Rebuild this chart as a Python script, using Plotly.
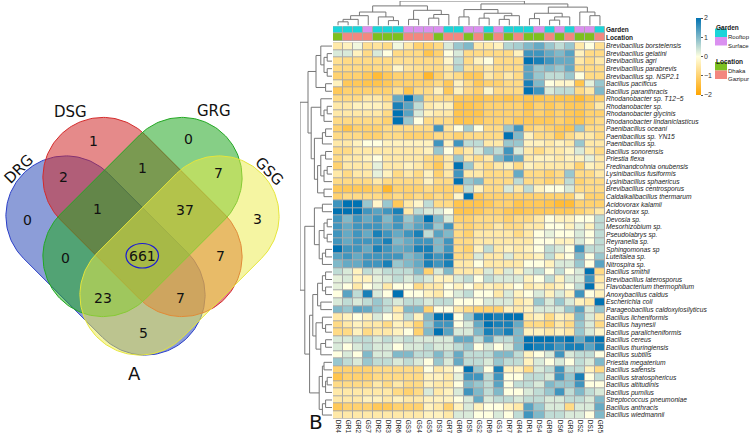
import numpy as np
import plotly.graph_objects as go

W, H = 750, 436

# ---------------- Venn data ----------------
venn_sets = ["DRG", "DSG", "GRG", "GSG"]
venn_counts = {
    "DRG": 0, "DSG": 1, "GRG": 0, "GSG": 3,
    "DRG&DSG": 2, "DSG&GRG": 1, "GRG&GSG": 7,
    "DRG&DSG&GRG": 1, "DSG&GRG&GSG": 37, "ALL": 661,
    "DRG&GRG": 0, "DSG&GSG": 7, "DRG&GRG&GSG": 23,
    "DRG&DSG&GSG": 7, "DRG&GSG": 5,
}

# ---------------- Heatmap data ----------------
samples = ["DR4", "GR1", "GR2", "GS7", "DR2", "DR3", "DR6", "GS3", "GS4", "GS5", "DS3", "GR7", "GR6", "DS5",
           "GS2", "DR9", "GS1", "DR7", "GR4", "DR1", "DS4", "GR9", "DS6", "GR3", "DS2", "DS1", "GR5"]
species = [
    "Brevibacillus borstelensis", "Brevibacillus gelatini", "Brevibacillus agri", "Brevibacillus parabrevis",
    "Brevibacillus sp. NSP2.1", "Bacillus pacificus", "Bacillus paranthracis", "Rhodanobacter sp. T12−5",
    "Rhodanobacter sp.", "Rhodanobacter glycinis", "Rhodanobacter lindaniclasticus", "Paenibacillus oceani",
    "Paenibacillus sp. YN15", "Paenibacillus sp.", "Bacillus sonorensis", "Priestia flexa",
    "Fredinandcohnia onubensis", "Lysinibacillus fusiformis", "Lysinibacillus sphaericus",
    "Brevibacillus centrosporus", "Caldalkalibacillus thermarum", "Acidovorax kalamii", "Acidovorax sp.",
    "Devosia sp.", "Mesorhizobium sp.", "Pseudolabrys sp.", "Reyranella sp.", "Sphingomonas sp",
    "Luteitalea sp.", "Nitrospira sp.", "Bacillus smithii", "Brevibacillus laterosporus",
    "Flavobacterium thermophilum", "Anoxybacillus caldus", "Escherichia coli",
    "Parageobacillus caldoxylosilyticus", "Bacillus licheniformis", "Bacillus haynesii",
    "Bacillus paralicheniformis", "Bacillus cereus", "Bacillus thuringiensis", "Bacillus subtilis",
    "Priestia megaterium", "Bacillus safensis", "Bacillus stratosphericus", "Bacillus altitudinis",
    "Bacillus pumilus", "Streptococcus pneumoniae", "Bacillus anthracis", "Bacillus wiedmannii",
]

z_rows = [
    [-0.5,-0.3,0.1,-0.7,-0.6,-0.8,0.1,-0.5,-1,-1,-0.8,0.3,0.8,1.0, -0.5,-0.5,-0.3,0.6,0.7,1.0,1.2,0.8,0.5,0.8,-0.5,0,-0.7],
    [0.3,0.3,-0.3,-0.8,0.3,0,-0.8,-0.8,-0.8,-1.3,-1,0,0.3,-0.8, -0.8,-0.8,-0.8,-0.8,-0.3,1.5,1.5,1.2,1.0,1.3,-0.3,-0.8,-0.8],
    [-0.7,-0.8,-0.8,-0.8,-0.8,-0.8,-0.7,-0.7,-0.8,-0.8,-0.8,-0.2,0.5,-0.8, -0.3,0,-0.8,-0.8,-0.8,2.0,1.8,1.5,1.2,1.2,-0.5,-0.8,-0.5],
    [-0.8,-0.8,-0.8,-0.9,-0.8,-0.8,-0.2,-0.6,-0.7,-0.8,-0.8,-0.5,0.6,-0.7, -0.8,-0.5,-0.8,-0.8,-0.8,1.3,0.8,1.0,0.8,1.2,-0.8,-0.8,-0.8],
    [-1,-1,-1,-1.2,-1.5,-1.2,-1,-1,-1,-1.6,-1,-0.6,-0.8,-1.2, -1.2,-0.5,-0.8,-0.5,-0.8,1.3,0.8,0.5,0.5,0.8,0,-0.8,-0.8],
    [-0.3,-1.2,-1.2,-1.3,-1.3,-1.2,-1,-1,-1,-1,-0.8,-1.2,-0.3,-0.8, -1.2,-1,-1,-0.8,-0.8,1.8,1.0,0,-0.2,-0.2,-1.3,0.2,0.8],
    [-1.2,-1,-1,-1,-1,-1,-0.7,-1.3,-0.8,-0.8,-0.3,-1.2,-0.3,-0.8, -1,-0.2,-0.8,-0.8,-0.8,2.0,1.5,0.3,0.5,0.5,-0.8,-0.5,1.0],
    [-0.8,-0.8,-0.8,-0.5,-0.5,-0.8,1.2,2.0,1.0,-0.8,-0.8,-0.8,-1.2,-1.2, -1.3,-1.2,-1.2,-1.3,-1.2,-1.3,-1.3,-1.2,-1.3,-1.3,-1.5,-1.2,-1],
    [-0.5,-0.5,-0.3,-0.3,-0.3,-0.5,1.8,1.3,0.5,-0.5,-0.3,-0.3,-1.3,-1.3, -1.2,-1,-1,-1,-1,-1.3,-1,-1.2,-1,-1.2,-1.2,-1,-0.5],
    [-0.5,-0.5,-0.5,-0.5,-0.5,-0.8,2.0,1.3,0.3,-0.3,-0.5,-0.5,-1.3,-1.3, -1.3,-1,-1,-1,-1,-1.2,-1,-1.2,-1,-1.2,-1.3,-1,-1],
    [-0.8,-0.8,-0.8,-0.8,-0.8,-1,2.0,0.8,0,-0.8,-0.8,-0.8,-1.3,-1.3, -1.2,-1,-1,-1,-1.2,-1.2,-1.2,-1.2,-1,-1.2,-1.3,-1,-0.8],
    [-1,-1.3,-1,-1,-1,-0.8,-0.8,-0.8,-0.8,-0.8,1.5,-0.6,0,0.7, 0,-0.8,-0.8,0.8,1.5,-1,-0.8,-1,-1.2,-1.3,0.8,-0.8,-0.8],
    [-0.8,-0.8,-0.8,-1,-1,-0.8,-0.8,-1,-1,-1,-0.8,-0.8,-1,-0.8, -0.8,-0.8,-0.8,2.0,1.0,-0.3,-0.8,-0.8,-1.2,-0.8,-0.5,-0.5,-0.8],
    [-0.5,-0.5,-0.3,0,0,-0.3,-0.3,-0.3,-0.3,-0.3,1.5,-0.3,1.5,0.5, 0.5,-0.5,-0.5,0.8,0.8,-0.3,-0.3,-0.5,-0.3,-0.5,0.8,-0.5,-0.5],
    [-0.8,-0.8,-0.5,-0.5,-0.5,-0.5,-0.5,-0.5,-0.5,-0.3,0.8,0,-0.8,-0.5, 0.3,0.8,0.5,1.5,0.3,-0.5,-0.8,-0.5,-0.5,-0.3,0.3,-0.5,-0.8],
    [-0.8,-0.5,-0.5,-0.3,0,-0.5,-0.5,-0.5,-0.5,-0.8,-1,-0.5,0.8,-0.5, -0.8,-0.5,1.0,1.5,1.2,-0.5,-0.3,-0.3,-0.5,-0.3,-0.3,0.2,-0.5],
    [-1,-0.5,-0.5,-0.5,0.2,-0.5,-0.5,-0.3,-0.5,-0.8,-1.2,-0.5,2.0,0.8, -0.5,-0.8,-0.5,-0.3,-0.8,-0.3,-0.5,-0.5,-0.5,-0.5,-1,-0.3,-0.5],
    [-0.5,-0.8,-0.5,-0.5,0.2,-0.3,-0.8,-0.5,-0.8,-0.3,-1,-0.5,1.5,-0.5, -0.5,-0.8,-0.8,-0.8,1.2,-0.8,-0.8,-1,-0.8,0.8,-0.8,-0.8,-0.5],
    [-0.8,-0.8,-0.8,-0.8,-0.5,-0.8,-0.8,-0.8,-0.8,-0.3,-0.8,-0.8,2.0,0.8, 1.0,-0.8,-0.8,-0.8,0.5,-0.8,-0.8,-1,-0.8,0.5,-1,-0.8,-0.8],
    [-1.2,-1.2,-1.2,-1.2,-1,-1.6,-1,-1,-1,-0.8,-1,-1,-1,0.5, -0.3,-0.8,-0.8,0.3,-0.5,0.5,-0.3,0,0,0.3,-0.8,-0.8,-0.8],
    [-1,-0.8,-0.8,-0.8,-0.8,-1,-0.8,-1,-0.8,-1,-0.8,-1,-0.2,2.0, -1.2,-1,-1,-1,-1,-1,-1,-1,-1,-1,-0.3,-1,-1],
    [1.5,2.0,2.0,0.8,-0.2,0.8,-1.2,-0.5,-0.2,0.5,-0.8,-0.8,-1.3,-1.3, -1.3,-1.2,-1,-1,-1.3,-1.2,-1.2,-1.3,-1.5,-1.5,-1,-1,-1],
    [2.0,2.0,2.0,1.5,1.3,1.5,1.8,-0.5,0.5,0.3,0.3,0,-1.3,-1.3, -1.2,-1,-1,-1.2,-1.3,-1.2,-1.2,-1.2,-1.2,-1.2,-1,-0.8,-0.5],
    [1.5,1.0,1.5,1.2,1.5,1.0,1.5,0.8,1.2,2.0,1.0,0.3,-1,-1, -0.8,-0.8,-0.8,-1,-0.8,-0.8,-0.5,0,-0.3,-0.3,0,0,0.5],
    [1.5,1.2,1.5,1.5,1.5,1.2,1.5,1.0,1.3,1.5,0.8,1.5,-0.8,-1, -0.8,-0.8,-0.5,-0.8,-0.8,-0.5,-0.5,0,0,-0.3,0.2,-0.3,0.5],
    [1.5,1.2,1.5,1.2,1.8,1.5,1.2,1.5,1.8,0.5,1.3,1.0,-0.8,-1, -0.5,-0.5,-0.5,-0.5,-0.8,-0.5,0,0.2,0,0,0.3,0,0.5],
    [1.5,1.2,1.5,1.5,1.5,1.8,1.0,1.2,1.5,1.5,1.0,1.5,-0.8,-0.8, -0.5,-0.5,-0.5,-0.5,-0.5,-0.5,0,0,-0.3,-0.3,0.3,0,0.5],
    [2.0,1.5,1.5,1.2,1.8,1.5,1.2,1.3,1.8,1.8,1.0,1.5,-0.8,-1, -0.3,0.5,-0.5,-0.3,-0.5,-0.3,0,0.5,0.3,0,1.5,0.5,0.5],
    [1.3,1.5,1.2,1.5,1.5,1.5,1.5,1.0,1.2,1.8,1.5,1.8,-0.8,-0.8, 0.3,-0.5,-0.5,0.3,-0.5,-0.5,-0.3,0.5,-0.3,0,1.0,0,0.8],
    [1.0,1.2,1.2,1.5,1.5,1.8,0.8,1.0,1.2,1.8,1.5,1.8,-0.5,-0.5, 0,-0.5,-0.5,-0.5,-0.5,0,0,-0.3,0.3,0.3,0.8,0,1.3],
    [0.5,0.3,-0.3,0.5,0.3,0.5,0.5,0.5,1.0,-1,0.3,1.0,-0.5,-0.5, -0.5,0.3,-0.5,0.3,-0.3,0.3,0.5,0,0.5,0,0.3,2.0,-0.8],
    [0.2,0.3,-0.3,-0.3,0.2,0.3,0.5,0.3,0.5,0.3,-0.3,-0.3,0.3,0.5, 0,0.5,0.3,0.3,0.3,-0.3,0,0.5,-0.3,0.3,0.3,1.5,-0.5],
    [0.2,0,-0.5,0,0.2,-0.5,0,0,-0.8,-0.5,-0.5,0,-0.3,0, -0.5,-0.3,-0.5,-0.3,0,-0.5,-0.3,-0.5,-0.3,0,0.5,2.0,-0.3],
    [0,1.3,0.5,1.8,0.3,0,2.0,0,0,-0.3,-0.5,0,0.3,0.5, 0,0,-0.5,0.3,-0.3,0,0.3,-0.3,0.3,-0.3,1.5,0,-0.3],
    [0.3,0.5,0.3,0.5,0.8,0.5,0.3,0.5,0.5,0.3,0.5,0.5,0,0, 0,0.3,0.3,0.3,-0.5,-0.3,0.8,0.3,0.8,0.3,-0.3,-0.5,2.0],
    [1.0,0.8,1.3,1.2,0.8,0.5,-0.5,1.0,1.0,-1,0,0,-0.5,-0.8, -1,-1,-1,-0.3,-0.5,-0.3,0.3,0.3,0.3,0.8,1.3,0.3,0.8],
    [-0.5,-0.3,0,-0.3,0.3,0,-0.3,0.5,-0.3,1.0,2.0,2.0,0,0.8, 1.8,2.0,1.8,2.0,2.0,-0.5,-0.3,-0.8,-0.3,-0.5,1.0,0.3,-0.5],
    [-0.8,-0.5,-0.3,-0.5,-0.5,-0.8,-0.3,-0.5,-1,0.8,1.5,1.5,0,0.3, 1.2,2.0,1.8,1.8,1.2,-0.8,-0.8,-1,-0.5,-0.8,0.8,0.3,-0.8],
    [-0.8,-0.8,-0.3,-0.8,-0.5,-0.5,-0.3,0,-1,1.0,2.0,1.3,0.3,0.3, 1.0,1.8,1.5,1.8,1.0,-0.3,-0.3,-0.5,-0.3,-0.5,0.8,0.3,-0.2],
    [0.3,0.3,0.5,0.5,0.3,0.5,0.3,0.5,0.3,0.3,0.3,0.3,1.2,1.2, 0.5,1.3,0.5,0.5,1.0,2.0,2.0,2.0,1.8,2.0,1.2,1.8,2.0],
    [0.3,0,0.3,0.5,0.3,0.3,0,0.3,0.3,0.5,0.3,0.3,0.5,0.8, 0,0.3,0,0.3,1.0,2.0,1.8,1.8,1.5,1.8,1.8,1.3,1.8],
    [0,0.3,0,1.0,0.3,0.3,1.0,1.0,0.5,0.5,1.0,0.5,1.2,0.5, 0.5,0.5,1.0,1.0,0.5,-0.3,0,0.3,1.5,0.3,0.5,0.5,0],
    [0.8,0.5,0.3,0.8,0.5,0.5,0.3,0.5,0.3,0,0.8,0.3,1.2,0.5, 0.5,0.3,0.8,0.5,0.5,-0.3,0.3,0,0.3,0,0.5,0.3,1.0],
    [-1,-1,-1,-1,-0.8,-0.8,-0.8,-0.8,-0.8,0,-0.5,-0.3,0,2.0, 0.8,0,1.8,-0.3,-0.3,-0.8,0.3,0.5,1.5,0.5,0.5,-0.3,-0.8],
    [-1.3,-1,-1,-1,-0.8,-0.8,-0.8,-0.8,-0.8,-0.3,-0.3,-0.5,0.2,1.5, 1.5,0.5,1.5,0,0,0.5,0.5,0.3,1.5,0.8,1.8,0,0.5],
    [-0.8,-0.8,-0.8,-0.8,-0.5,-0.8,-0.5,-0.8,-0.8,-0.3,-0.5,-0.5,0,1.0, 0.8,0.5,1.3,0,0.5,0.5,0.3,1.0,0.8,0.8,1.5,0,0],
    [-0.5,-0.5,-0.5,-0.5,-0.5,-0.5,-0.8,-1,-0.8,0.3,-0.5,-0.3,0.3,1.5, 1.0,0.5,1.0,0,0,0.3,0.5,0.8,1.5,0.5,1.0,0.5,0.3],
    [-0.5,-0.5,-0.5,-0.3,-0.3,-0.5,-0.3,-0.5,-0.5,-0.3,-0.3,-0.3,0,0.3, 1.2,0.3,0.5,0.5,0.3,0.5,0.5,0.3,0.3,0.5,0.5,0.3,1.0],
    [-1.2,-1,-1,-1,-1.2,-1.2,-1,-1,-1,-0.3,-0.5,-1,-0.3,0.3, -0.3,0,0,-0.3,-0.5,1.3,0.8,0.3,0.3,-0.8,0.3,0.3,1.2],
    [-0.5,-0.5,-0.5,-0.5,-0.5,-0.5,-0.5,-0.5,-0.5,-0.3,-0.3,-0.5,0.3,0.3, 0,0,0.3,0,0.5,1.5,1.0,0.5,0.5,0.3,0.3,0,1.0],
]

garden_levels = ["Rooftop", "Surface"]
location_levels = ["Dhaka", "Gazipur"]
garden_colors = {"Rooftop": "#1CD4D9", "Surface": "#DA90F0"}
location_colors = {"Dhaka": "#7DC01F", "Gazipur": "#F3877F"}

# dendrogram merges: (child_a, child_b, height as fraction of max); leaves in display order
col_merges = [
    (0, 1, .15), (27, 2, .25), (28, 3, .40), (5, 6, .20), (4, 30, .35), (29, 31, .55),
    (7, 8, .25), (9, 10, .30), (34, 11, .45), (33, 35, .62), (32, 36, .80),
    (12, 13, .35), (14, 15, .30), (16, 17, .25), (40, 18, .40), (39, 41, .50), (38, 42, .65),
    (19, 20, .28), (21, 22, .22), (23, 45, .35), (44, 46, .50), (25, 26, .40), (24, 48, .55),
    (47, 49, .75), (43, 50, .88), (37, 51, 1.0),
]
row_merges = [
    (1, 2, .15), (3, 4, .15), (50, 51, .25), (0, 52, .35), (5, 6, .20), (53, 54, .50),
    (8, 9, .15), (56, 10, .25), (7, 57, .35),
    (11, 12, .20), (59, 13, .30), (14, 15, .20), (16, 17, .15), (62, 18, .25), (61, 63, .35),
    (19, 20, .25), (64, 65, .45), (60, 66, .55), (58, 67, .65), (55, 68, .75),
    (21, 22, .30), (23, 24, .15), (25, 26, .15), (71, 72, .25), (27, 28, .20), (74, 29, .30),
    (73, 75, .40), (70, 76, .55),
    (30, 31, .20), (32, 33, .20), (78, 79, .30), (34, 35, .35), (80, 81, .45),
    (37, 38, .20), (36, 83, .30), (39, 40, .20), (85, 41, .35), (84, 86, .50), (82, 87, .60),
    (42, 43, .25), (44, 45, .15), (90, 46, .20), (89, 91, .30), (47, 48, .20), (93, 49, .30),
    (92, 94, .40), (88, 95, .70), (77, 96, .85), (69, 97, 1.0),
]


def dendro_lines(merges, n):
    pos = {i: float(i) for i in range(n)}
    hgt = {i: 0.0 for i in range(n)}
    p, h = [], []
    for k, (a, b, hh) in enumerate(merges):
        p += [pos[a], pos[a], pos[b], pos[b], None]
        h += [hgt[a], hh, hh, hgt[b], None]
        pos[n + k] = (pos[a] + pos[b]) / 2
        hgt[n + k] = hh
    return p, h


def py(y):
    return 1 - y / H


fig = go.Figure()

# ---------------- Venn (axis x5/y5, pixel units): capsule-shaped sets ----------------
shapes_venn = [  # center x, center y, half-length, radius, axis angle(deg), fill, line
    (105.5, 255.5, 56, 60, 45, "rgba(46,76,184,0.55)", "#2A3EC8"),
    (142.5, 217, 56, 60, 45, "rgba(208,42,42,0.55)", "#D42A2A"),
    (142.5, 217, 56, 60, -45, "rgba(35,168,35,0.55)", "#22A822"),
    (179.5, 255.5, 56, 60, -45, "rgba(236,236,70,0.5)", "#E6E63A"),
]
for cx, cy, hl, r, ang, fc, lc in shapes_venn:
    phi = np.deg2rad(ang)
    ux, uy = np.cos(phi), np.sin(phi)
    a2 = np.linspace(phi - np.pi / 2, phi + np.pi / 2, 90)
    a1 = np.linspace(phi + np.pi / 2, phi + 3 * np.pi / 2, 90)
    xs = np.concatenate([cx + hl * ux + r * np.cos(a2), cx - hl * ux + r * np.cos(a1)])
    ys = np.concatenate([cy + hl * uy + r * np.sin(a2), cy - hl * uy + r * np.sin(a1)])
    xs = np.append(xs, xs[0])
    ys = np.append(ys, ys[0])
    fig.add_trace(go.Scatter(x=xs, y=ys, mode="lines", fill="toself", fillcolor=fc,
                             line=dict(color=lc, width=1), hoverinfo="skip",
                             xaxis="x5", yaxis="y5"))

venn_label_pos = {
    "DRG": (27, 220), "DSG": (93, 141), "GRG": (188, 139), "GSG": (257, 219),
    "DRG&DSG": (63, 177), "DSG&GRG": (142, 168), "GRG&GSG": (218, 173),
    "DRG&DSG&GRG": (97, 209), "DSG&GRG&GSG": (185, 210), "ALL": (142, 256),
    "DRG&GRG": (65, 258), "DSG&GSG": (220, 256), "DRG&GRG&GSG": (103, 298),
    "DRG&DSG&GSG": (180, 298), "DRG&GSG": (143, 333),
}
for key, val in venn_counts.items():
    x, y = venn_label_pos[key]
    fig.add_annotation(x=x, y=y, xref="x5", yref="y5", text=str(val), showarrow=False,
                       font=dict(family="DejaVu Sans", size=14, color="#111"))
fig.add_shape(type="circle", xref="x5", yref="y5", x0=126, x1=158.5, y0=243.5, y1=268,
              line=dict(color="#1A1AD6", width=1.2))
set_label_pos = {"DRG": (19, 169, -45), "DSG": (70, 112, 0), "GRG": (214, 111, 0), "GSG": (269, 171, 45)}
for s in venn_sets:
    x, y, r = set_label_pos[s]
    fig.add_annotation(x=x, y=y, xref="x5", yref="y5", text=s, showarrow=False, textangle=r,
                       borderpad=0, font=dict(family="DejaVu Sans", size=15, color="#111"))
fig.add_annotation(x=134, y=373, xref="x5", yref="y5", text="A", showarrow=False,
                   font=dict(family="DejaVu Sans", size=18, color="#111"))

# ---------------- Heatmap ----------------
ncol, nrow = len(samples), len(species)
hx0, hx1 = 333, 605
hy0, hy1 = 42.3, 418.8
colorscale = [[0.0, "#FFA500"], [0.5, "#FFFFE0"], [1.0, "#0072B2"]]

fig.add_shape(type="rect", xref="paper", yref="paper", x0=hx0 / W, x1=hx1 / W, y0=py(hy1), y1=py(hy0),
              fillcolor="#A9A9A9", line=dict(width=0), layer="below")
fig.add_shape(type="rect", xref="paper", yref="paper", x0=hx0 / W, x1=hx1 / W, y0=py(41), y1=py(26.2),
              fillcolor="#A9A9A9", line=dict(width=0), layer="below")

fig.add_trace(go.Heatmap(
    z=z_rows, x=list(range(ncol)), y=list(range(nrow)), zmin=-2, zmax=2, colorscale=colorscale,
    xgap=1, ygap=1, hoverinfo="skip", xaxis="x", yaxis="y",
    colorbar=dict(thickness=5, len=77, lenmode="pixels", x=696 / W, xanchor="left", xpad=0, ypad=0,
                  y=py(18), yanchor="top", tickvals=[-2, -1, 0, 1, 2],
                  ticktext=["−2", "−1", "0", "1", "2"], ticks="outside", ticklen=2, tickcolor="#555",
                  outlinewidth=0, tickfont=dict(family="Liberation Sans", size=7, color="#333")),
))

garden = ["Rooftop" if s[1] == "R" else "Surface" for s in samples]
location = ["Dhaka" if s[0] == "D" else "Gazipur" for s in samples]
levels = garden_levels + location_levels
cols4 = [garden_colors[l] for l in garden_levels] + [location_colors[l] for l in location_levels]
ann_z = [[levels.index(g) for g in garden], [levels.index(l) for l in location]]
dcs = []
for i, c in enumerate(cols4):
    dcs += [[i / 4, c], [(i + 1) / 4, c]]
fig.add_trace(go.Heatmap(z=ann_z, x=list(range(ncol)), y=[0, 1], zmin=-0.5, zmax=3.5,
                         colorscale=dcs, showscale=False, xgap=1, ygap=1, hoverinfo="skip",
                         xaxis="x", yaxis="y2"))

# dendrograms
cp, ch = dendro_lines(col_merges, ncol)
fig.add_trace(go.Scatter(x=cp, y=ch, mode="lines", line=dict(color="#777", width=1),
                         hoverinfo="skip", xaxis="x3", yaxis="y3"))
rp, rh = dendro_lines(row_merges, nrow)
fig.add_trace(go.Scatter(x=rh, y=rp, mode="lines", line=dict(color="#777", width=1),
                         hoverinfo="skip", xaxis="x4", yaxis="y4"))

# legend for annotations
lx = 715
small = dict(family="Liberation Sans", size=6, color="#222")
fig.add_annotation(x=lx / W, y=py(23), xref="paper", yref="paper", text="<b>Garden</b>", showarrow=False,
                   xanchor="left", borderpad=0, font=dict(family="Liberation Sans", size=6.5, color="#222"))
fig.add_annotation(x=lx / W, y=py(57), xref="paper", yref="paper", text="<b>Location</b>", showarrow=False,
                   xanchor="left", borderpad=0, font=dict(family="Liberation Sans", size=6.5, color="#222"))
legend_rows = [(garden_levels, garden_colors, 28.5), (location_levels, location_colors, 62)]
for labels, cmap, ytop in legend_rows:
    for j, lab in enumerate(labels):
        y0 = ytop + j * 8.5
        fig.add_shape(type="rect", xref="paper", yref="paper", x0=lx / W, x1=(lx + 12) / W,
                      y0=py(y0 + 8.5), y1=py(y0), fillcolor=cmap[lab], line=dict(width=0))
        fig.add_annotation(x=(lx + 12) / W, y=py(y0 + 4.5), xref="paper", yref="paper", text=lab,
                           showarrow=False, xanchor="left", borderpad=0, font=small)

fig.add_annotation(x=316 / W, y=0, xref="paper", yref="paper", text="B", showarrow=False,
                   yanchor="bottom", font=dict(family="DejaVu Sans", size=20, color="#111"))

tf = dict(family="Liberation Sans", size=6.5, color="#222")
fig.update_layout(
    width=W, height=H, margin=dict(l=0, r=0, t=0, b=0), paper_bgcolor="white", plot_bgcolor="white",
    showlegend=False,
    xaxis=dict(domain=[hx0 / W, hx1 / W], range=[-0.5, ncol - 0.5], tickvals=list(range(ncol)),
               ticktext=samples, tickangle=90, showgrid=False, zeroline=False, ticks="",
               tickfont=tf, anchor="y", fixedrange=True),
    yaxis=dict(domain=[py(hy1), py(hy0)], range=[nrow - 0.5, -0.5], tickvals=list(range(nrow)),
               ticktext=species, side="right", showgrid=False, zeroline=False, ticks="",
               tickfont=dict(family="Liberation Sans", size=6.7, color="#222", style="italic"),
               anchor="x"),
    yaxis2=dict(domain=[py(41), py(26.2)], range=[1.5, -0.5], tickvals=[0, 1],
                ticktext=["Garden", "Location"], side="right", showgrid=False, zeroline=False,
                ticks="", tickfont=dict(family="Liberation Sans", size=6.5, color="#222", weight="bold"),
                anchor="x"),
    xaxis3=dict(domain=[hx0 / W, hx1 / W], range=[-0.5, ncol - 0.5], visible=False, anchor="y3"),
    yaxis3=dict(domain=[py(25.5), py(1)], range=[0, 1.0], visible=False, anchor="x3"),
    xaxis4=dict(domain=[300 / W, 332 / W], range=[1.0, 0], visible=False, anchor="y4"),
    yaxis4=dict(domain=[py(hy1), py(hy0)], range=[nrow - 0.5, -0.5], visible=False, anchor="x4"),
    xaxis5=dict(domain=[0, 300 / W], range=[0, 300], visible=False, anchor="y5"),
    yaxis5=dict(domain=[0, 1], range=[H, 0], visible=False, anchor="x5"),
)

fig.write_html("out.html")
